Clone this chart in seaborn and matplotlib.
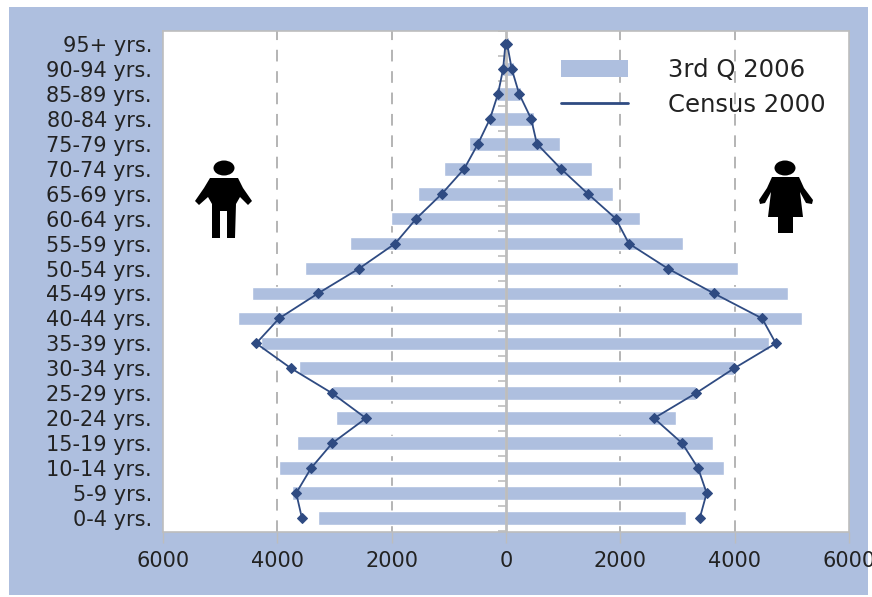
import numpy as np
import matplotlib
matplotlib.use("Agg")
import matplotlib.pyplot as plt
from matplotlib.patches import Rectangle, Polygon, Ellipse
from matplotlib.lines import Line2D
import seaborn as sns

ages = ["95+ yrs.", "90-94 yrs.", "85-89 yrs.", "80-84 yrs.", "75-79 yrs.", "70-74 yrs.",
        "65-69 yrs.", "60-64 yrs.", "55-59 yrs.", "50-54 yrs.", "45-49 yrs.", "40-44 yrs.",
        "35-39 yrs.", "30-34 yrs.", "25-29 yrs.", "20-24 yrs.", "15-19 yrs.", "10-14 yrs.",
        "5-9 yrs.", "0-4 yrs."]
male_2006 = [30, 70, 170, 300, 650, 1080, 1540, 2010, 2730, 3510, 4440, 4690, 4280, 3620,
             3040, 2970, 3650, 3970, 3740, 3290]
female_2006 = [50, 140, 260, 490, 940, 1500, 1870, 2340, 3090, 4060, 4930, 5170, 4600, 3990,
               3320, 2970, 3620, 3810, 3500, 3150]
male_2000 = [10, 50, 140, 280, 490, 730, 1120, 1570, 1940, 2570, 3290, 3970, 4370, 3760,
             3040, 2450, 3040, 3410, 3670, 3570]
female_2000 = [20, 100, 230, 440, 540, 960, 1430, 1920, 2150, 2830, 3640, 4480, 4720, 3990,
               3320, 2590, 3080, 3360, 3510, 3390]
x_ticks = [-6000, -4000, -2000, 0, 2000, 4000, 6000]
x_labels = ["6000", "4000", "2000", "0", "2000", "4000", "6000"]

BG = "#AEBFDF"
BAR = "#AEBFDF"
LINE = "#2F4B82"
GRAY = "#BDBDBD"
TXT = "#222222"
W, H = 872, 597

sns.set_theme(style="white")
plt.rcParams["font.family"] = ["DejaVu Sans"]
fig = plt.figure(figsize=(W / 100, H / 100), dpi=100, facecolor="white")
fig.add_artist(Rectangle((9 / W, 2 / H), 859 / W, 588 / H, transform=fig.transFigure,
                         facecolor=BG, edgecolor="none", zorder=-5))
ax = fig.add_axes([163 / W, 1 - 532 / H, 686 / W, 501 / H], facecolor="white")

male_neg = -np.array(male_2006)
female_pos = np.array(female_2006)
sns.barplot(y=ages, x=male_neg, order=ages, orient="h", color=BAR, saturation=1, width=0.55, ax=ax, zorder=3)
sns.barplot(y=ages, x=female_pos, order=ages, orient="h", color=BAR, saturation=1, width=0.55, ax=ax, zorder=3)

pos = np.arange(len(ages))
for vals in (-np.array(male_2000), np.array(female_2000)):
    sns.lineplot(x=vals, y=pos, sort=False, estimator=None, color=LINE, lw=1.3, marker="D",
                 markersize=5.5, markeredgecolor=LINE, ax=ax, zorder=5)

ax.set_xlim(-6000, 6000)
ax.set_ylim(19.56, -0.52)
ax.set_xlabel("")
ax.set_ylabel("")
ax.set_xticks(x_ticks)
ax.set_xticklabels(x_labels)
ax.tick_params(axis="x", length=8, width=1, color=GRAY, labelsize=15, labelcolor=TXT, pad=6, bottom=True)
ax.tick_params(axis="y", length=0, labelsize=15, labelcolor=TXT, pad=8)
for s in ax.spines.values():
    s.set_color(GRAY)
    s.set_linewidth(1.2)
for v in (-4000, -2000, 2000, 4000):
    ax.axvline(v, color="#B4B4B4", lw=1.4, ls=(0, (6, 5)), zorder=1)
ax.axvline(0, color=GRAY, lw=2, zorder=4)

centre = ax.secondary_yaxis(0.5)
centre.set_yticks(np.arange(len(ages) + 1) - 0.5)
centre.set_yticklabels([])
centre.tick_params(axis="y", direction="in", length=6, width=1.2, color=GRAY)
for s in centre.spines.values():
    s.set_visible(False)

handles = [Rectangle((0, 0), 1, 1, facecolor=BAR, edgecolor="none"), Line2D([0], [0], color=LINE, lw=2)]
leg = ax.legend(handles, ["3rd Q 2006", "Census 2000"], loc="upper left", bbox_to_anchor=(0.58, 0.946),
                frameon=False, fontsize=17.5, handlelength=2.76, handleheight=0.75, labelspacing=0.45,
                handletextpad=1.65, borderpad=0, borderaxespad=0, labelcolor=TXT)

# pictograms, in pixel coordinates of the picture
def px(pts):
    return [(x / W, 1 - y / H) for x, y in pts]

def add(shape):
    shape.set_zorder(6)
    fig.add_artist(shape)

man = [(210, 178), (238, 178), (243, 188), (252, 201), (248, 205), (240, 197), (236, 204), (235, 238),
       (227, 238), (227, 211), (220, 211), (220, 238), (212, 238), (212, 204), (208, 197), (199, 205), (195, 201), (204, 188)]
add(Polygon(px(man), closed=True, facecolor="black", edgecolor="none", transform=fig.transFigure))
add(Ellipse((224 / W, 1 - 168 / H), 21 / W, 15 / H, facecolor="black", edgecolor="none", transform=fig.transFigure))

woman = [(772, 177), (799, 177), (804, 188), (813, 200), (812, 204), (806, 203), (800, 192), (803, 217), (793, 217),
         (793, 233), (778, 233), (778, 217), (768, 217), (771, 192), (765, 203), (760, 204), (759, 200), (767, 188)]
add(Polygon(px(woman), closed=True, facecolor="black", edgecolor="none", transform=fig.transFigure))
add(Ellipse((785 / W, 1 - 168 / H), 21 / W, 15 / H, facecolor="black", edgecolor="none", transform=fig.transFigure))

fig.savefig("out.png", dpi=100, facecolor=fig.get_facecolor())
